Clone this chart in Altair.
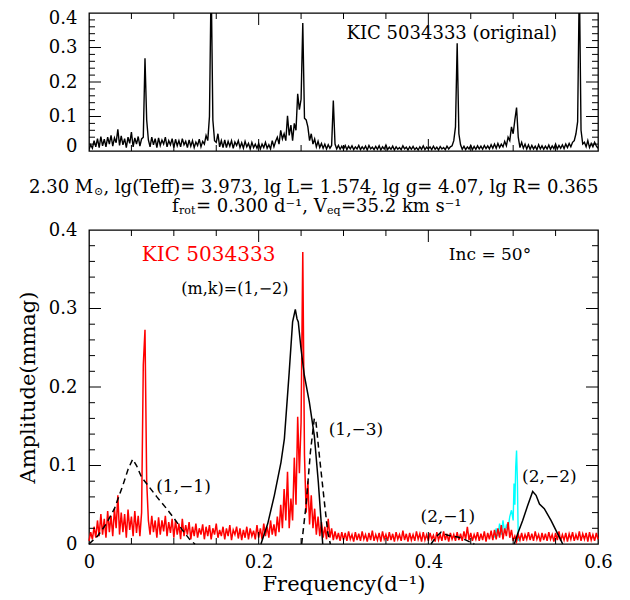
import altair as alt
import pandas as pd

# ---------------- data ----------------
STEP = 0.002  # frequency resolution of the spectra (d^-1)

# original spectrum of KIC 5034333 (top panel), amplitude in mmag
top_amp = [
    0.004, 0.018, 0.008, 0.03, 0.012, 0.036, 0.01, 0.042, 0.015, 0.034,
    0.012, 0.04, 0.02, 0.045, 0.014, 0.038, 0.024, 0.063, 0.016, 0.044,
    0.018, 0.036, 0.01, 0.04, 0.022, 0.055, 0.012, 0.038, 0.02, 0.042,
    0.014, 0.035, 0.04, 0.269, 0.09, 0.032, 0.012, 0.04, 0.018, 0.036,
    0.01, 0.038, 0.016, 0.032, 0.02, 0.04, 0.012, 0.03, 0.018, 0.036,
    0.01, 0.034, 0.015, 0.03, 0.012, 0.036, 0.018, 0.028, 0.01, 0.032,
    0.014, 0.03, 0.01, 0.026, 0.016, 0.034, 0.012, 0.028, 0.02, 0.045,
    0.03, 0.1, 0.5, 0.09, 0.03, 0.025, 0.05, 0.012, 0.03, 0.01,
    0.032, 0.01, 0.028, 0.014, 0.03, 0.008, 0.026, 0.016, 0.03, 0.01,
    0.024, 0.008, 0.028, 0.012, 0.022, 0.006, 0.025, 0.01, 0.02, 0.008,
    0.022, 0.006, 0.02, 0.01, 0.025, 0.008, 0.018, 0.006, 0.03, 0.012,
    0.028, 0.04, 0.02, 0.06, 0.035, 0.05, 0.03, 0.102, 0.045, 0.075,
    0.03, 0.08, 0.06, 0.166, 0.12, 0.15, 0.371, 0.095, 0.09, 0.07,
    0.03, 0.05, 0.02, 0.035, 0.012, 0.028, 0.01, 0.022, 0.008, 0.02,
    0.006, 0.018, 0.008, 0.016, 0.146, 0.02, 0.006, 0.016, 0.005, 0.014,
    0.005, 0.016, 0.004, 0.014, 0.006, 0.015, 0.004, 0.012, 0.006, 0.016,
    0.004, 0.012, 0.005, 0.014, 0.003, 0.016, 0.006, 0.011, 0.004, 0.013,
    0.005, 0.015, 0.003, 0.012, 0.006, 0.017, 0.004, 0.011, 0.005, 0.014,
    0.003, 0.012, 0.005, 0.01, 0.004, 0.015, 0.006, 0.011, 0.003, 0.012,
    0.005, 0.013, 0.004, 0.01, 0.003, 0.012, 0.005, 0.015, 0.004, 0.011,
    0.006, 0.012, 0.004, 0.014, 0.005, 0.011, 0.003, 0.013, 0.006, 0.01,
    0.004, 0.014, 0.006, 0.012, 0.015, 0.03, 0.07, 0.312, 0.05, 0.018,
    0.005, 0.014, 0.004, 0.012, 0.006, 0.016, 0.004, 0.013, 0.005, 0.015,
    0.006, 0.014, 0.005, 0.016, 0.007, 0.015, 0.006, 0.018, 0.008, 0.02,
    0.008, 0.022, 0.01, 0.02, 0.012, 0.028, 0.015, 0.04, 0.03, 0.07,
    0.05, 0.09, 0.126, 0.04, 0.01, 0.025, 0.008, 0.02, 0.006, 0.018,
    0.005, 0.016, 0.006, 0.014, 0.004, 0.018, 0.006, 0.015, 0.005, 0.014,
    0.006, 0.017, 0.005, 0.015, 0.007, 0.02, 0.006, 0.016, 0.008, 0.018,
    0.007, 0.02, 0.01, 0.022, 0.012, 0.025, 0.03, 0.05, 0.085, 0.5,
    0.06, 0.02, 0.025, 0.012, 0.03, 0.01, 0.022, 0.012, 0.025, 0.015,
    0.008,
]

# observed (red) spectrum in the lower panel
red_amp = [
    0.004, 0.015, 0.006, 0.022, 0.008, 0.03, 0.01, 0.038, 0.012, 0.032,
    0.008, 0.042, 0.015, 0.036, 0.01, 0.045, 0.02, 0.062, 0.012, 0.04,
    0.015, 0.038, 0.008, 0.044, 0.018, 0.035, 0.01, 0.042, 0.014, 0.036,
    0.01, 0.04, 0.228, 0.273, 0.08, 0.03, 0.012, 0.036, 0.015, 0.03,
    0.008, 0.034, 0.012, 0.03, 0.016, 0.036, 0.01, 0.028, 0.014, 0.032,
    0.008, 0.03, 0.012, 0.026, 0.006, 0.032, 0.01, 0.024, 0.012, 0.028,
    0.006, 0.022, 0.01, 0.026, 0.008, 0.02, 0.012, 0.025, 0.006, 0.022,
    0.01, 0.024, 0.006, 0.02, 0.012, 0.026, 0.008, 0.018, 0.01, 0.022,
    0.006, 0.02, 0.01, 0.024, 0.005, 0.018, 0.012, 0.022, 0.007, 0.02,
    0.005, 0.018, 0.008, 0.022, 0.006, 0.02, 0.01, 0.017, 0.006, 0.024,
    0.008, 0.02, 0.006, 0.026, 0.01, 0.022, 0.008, 0.03, 0.012, 0.025,
    0.01, 0.035, 0.015, 0.05, 0.02, 0.07, 0.03, 0.092, 0.02, 0.058,
    0.03, 0.11, 0.05, 0.162, 0.09, 0.155, 0.372, 0.113, 0.04, 0.08,
    0.025, 0.062, 0.02, 0.045, 0.012, 0.035, 0.01, 0.028, 0.008, 0.022,
    0.006, 0.032, 0.008, 0.02, 0.005, 0.016, 0.006, 0.014, 0.004, 0.015,
    0.005, 0.014, 0.004, 0.016, 0.006, 0.012, 0.003, 0.015, 0.005, 0.013,
    0.004, 0.016, 0.006, 0.012, 0.003, 0.014, 0.005, 0.017, 0.004, 0.012,
    0.005, 0.014, 0.003, 0.016, 0.006, 0.012, 0.004, 0.015, 0.005, 0.013,
    0.003, 0.015, 0.006, 0.012, 0.004, 0.017, 0.005, 0.013, 0.003, 0.014,
    0.005, 0.012, 0.004, 0.016, 0.006, 0.013, 0.003, 0.015, 0.005, 0.012,
    0.004, 0.014, 0.006, 0.011, 0.003, 0.015, 0.005, 0.012, 0.004, 0.016,
    0.005, 0.013, 0.003, 0.014, 0.006, 0.012, 0.004, 0.015, 0.005, 0.013,
    0.004, 0.016, 0.006, 0.022, 0.005, 0.014, 0.004, 0.012, 0.006, 0.015,
    0.004, 0.013, 0.005, 0.016, 0.003, 0.014, 0.006, 0.017, 0.005, 0.018,
    0.006, 0.02, 0.008, 0.024, 0.006, 0.02, 0.01, 0.028, 0.008, 0.018,
    0.004, 0.01, 0.003, 0.012, 0.005, 0.014, 0.004, 0.012, 0.006, 0.015,
    0.005, 0.013, 0.004, 0.016, 0.006, 0.012, 0.003, 0.014, 0.005, 0.013,
    0.004, 0.015, 0.006, 0.012, 0.003, 0.014, 0.005, 0.016, 0.004, 0.012,
    0.005, 0.014, 0.003, 0.013, 0.006, 0.015, 0.004, 0.012, 0.005, 0.016,
    0.004, 0.013, 0.006, 0.014, 0.003, 0.015, 0.005, 0.012, 0.004, 0.014,
    0.006,
]

# cyan part of the spectrum near 0.5 d^-1
cyan_freq = [0.478, 0.480, 0.482, 0.484, 0.486, 0.488, 0.490, 0.492, 0.494, 0.496,
             0.498, 0.500, 0.501, 0.502, 0.503, 0.504, 0.505, 0.506, 0.508]
cyan_amp = [0.008, 0.02, 0.01, 0.026, 0.012, 0.03, 0.014, 0.024, 0.02, 0.035,
            0.043, 0.03, 0.077, 0.05, 0.098, 0.119, 0.08, 0.005, 0.004]

# model amplitude curves (m,k)
m11_f = [0.0, 0.01, 0.02, 0.03, 0.04, 0.046, 0.0515, 0.056, 0.062, 0.07, 0.08, 0.09, 0.1, 0.11, 0.12, 0.125]
m11_a = [0.0, 0.01, 0.025, 0.045, 0.075, 0.095, 0.108, 0.1, 0.085, 0.074, 0.06, 0.047, 0.033, 0.018, 0.004, 0.0]

m12_f = [0.2027, 0.2107, 0.2185, 0.2263, 0.2303, 0.236, 0.240, 0.2432, 0.2452, 0.2467, 0.2499, 0.2538, 0.2597, 0.2656, 0.2703, 0.2755]
m12_a = [0.0, 0.026, 0.062, 0.104, 0.134, 0.219, 0.283, 0.299, 0.287, 0.283, 0.249, 0.215, 0.181, 0.138, 0.079, 0.0]

m13_f = [0.2507, 0.2558, 0.261, 0.2656, 0.2676, 0.2715, 0.2766, 0.2814, 0.2845]
m13_a = [0.0, 0.049, 0.117, 0.16, 0.155, 0.113, 0.062, 0.015, 0.0]

m21_f = [0.4032, 0.409, 0.415, 0.4228, 0.4346, 0.4444, 0.4542]
m21_a = [0.0, 0.009, 0.015, 0.011, 0.009, 0.005, 0.0]

m22_f = [0.5014, 0.5053, 0.5112, 0.5171, 0.523, 0.527, 0.531, 0.5367, 0.5446, 0.5525, 0.5584]
m22_a = [0.0, 0.013, 0.030, 0.049, 0.067, 0.062, 0.051, 0.045, 0.030, 0.013, 0.0]

# tick positions / labels
y_labels = [0, 0.1, 0.2, 0.3, 0.4]
x_labels = [0, 0.2, 0.4, 0.6]
y_major_ticks = [0.1, 0.2, 0.3]
y_minor_ticks = [0.02, 0.04, 0.06, 0.08, 0.12, 0.14, 0.16, 0.18,
                 0.22, 0.24, 0.26, 0.28, 0.32, 0.34, 0.36, 0.38]
x_major_ticks = [0.2, 0.4]
x_minor_ticks = [0.05, 0.1, 0.15, 0.25, 0.3, 0.35, 0.45, 0.5, 0.55]

# annotations of the lower panel
ann_text = ["(1,\u22121)", "(1,\u22123)", "(2,\u22121)", "(2,\u22122)", "Inc  =  50\u00b0"]
ann_f = [0.1114, 0.3147, 0.4229, 0.5426, 0.4727]
ann_a = [0.0726, 0.145, 0.0344, 0.0853, 0.3677]
mk_text = ["(m,k)=(1,\u22122)"]
mk_f = [0.172]
mk_a = [0.325]

# parameter lines between the panels
line1_main = ["2.30 M", ",  lg(Teff)= 3.973, lg L= 1.574, lg g= 4.07, lg R= 0.365"]
line1_main_f = [-0.0707, 0.0170]
line1_sub = ["\u2299"]
line1_sub_f = [0.0060]
line2_main = ["f", "= 0.300 d\u207b\u00b9, V", "=35.2 km s\u207b\u00b9"]
line2_main_f = [0.0978, 0.1261, 0.2971]
line2_sub = ["rot", "eq"]
line2_sub_f = [0.1061, 0.2806]

# ---------------- chart ----------------
W = 509
H_TOP = 138
H_MID = 62
H_BOT = 314

xs = alt.Scale(domain=[0, 0.6], nice=False, zero=False)
ys = alt.Scale(domain=[0, 0.4], nice=False, zero=False)

top_df = pd.DataFrame({"f": [round(i * STEP, 3) for i in range(len(top_amp))], "a": top_amp})
red_df = pd.DataFrame({"f": [round(i * STEP, 3) for i in range(len(red_amp))], "a": red_amp})
cyan_df = pd.DataFrame({"f": cyan_freq, "a": cyan_amp})


def model_df(pairs):
    rows = []
    for name, fs, As in pairs:
        for f, a in zip(fs, As):
            rows.append({"model": name, "f": f, "a": a})
    return pd.DataFrame(rows)


solid_df = model_df([("1,-2", m12_f, m12_a), ("2,-2", m22_f, m22_a)])
dashed_df = model_df([("1,-1", m11_f, m11_a), ("1,-3", m13_f, m13_a), ("2,-1", m21_f, m21_a)])

# axes: the same definition is repeated in every layer of a panel
top_xaxis = None
top_yaxis = alt.Axis(values=y_labels, format="~g", title=None, labelFlush=True, labelFlushOffset=4)
bot_xaxis = alt.Axis(values=x_labels, format="~g", title="Frequency(d\u207b\u00b9)", labelFlush=False)
bot_yaxis = alt.Axis(values=y_labels, format="~g", title="Amplitude(mmag)")


def enc(xaxis, yaxis, field_x="f", field_y="a"):
    return dict(
        x=alt.X(field_x + ":Q", scale=xs, axis=xaxis),
        y=alt.Y(field_y + ":Q", scale=ys, axis=yaxis),
    )


def frame_ticks(w, h, xaxis, yaxis):
    layers = []
    for vals, L in [(x_major_ticks, 12), (x_minor_ticks, 6)]:
        base = alt.Chart(pd.DataFrame({"v": vals})).mark_rule(color="black", strokeWidth=1)
        xe = alt.X("v:Q", scale=xs, axis=xaxis)
        layers.append(base.encode(x=xe, y=alt.value(h), y2=alt.value(h - L)))
        layers.append(base.encode(x=xe, y=alt.value(0), y2=alt.value(L)))
    for vals, L in [(y_major_ticks, 12), (y_minor_ticks, 6)]:
        base = alt.Chart(pd.DataFrame({"v": vals})).mark_rule(color="black", strokeWidth=1)
        ye = alt.Y("v:Q", scale=ys, axis=yaxis)
        layers.append(base.encode(y=ye, x=alt.value(0), x2=alt.value(L)))
        layers.append(base.encode(y=ye, x=alt.value(w), x2=alt.value(w - L)))
    return layers


top_line = alt.Chart(top_df).mark_line(color="black", strokeWidth=1.4, clip=True).encode(
    **enc(top_xaxis, top_yaxis)
)
top_label = alt.Chart(pd.DataFrame({"t": ["KIC 5034333 (original)"], "f": [0.4277], "a": [0.34]})).mark_text(
    fontSize=18, color="black", align="center", baseline="middle"
).encode(text="t:N", **enc(top_xaxis, top_yaxis))

top = alt.layer(top_line, top_label, *frame_ticks(W, H_TOP, top_xaxis, top_yaxis)).properties(
    width=W, height=H_TOP
)


def mid_text(texts, fs, ypx, size, dy=0):
    return alt.Chart(pd.DataFrame({"t": texts, "f": fs})).mark_text(
        fontSize=size, color="black", align="left", baseline="middle", dy=dy
    ).encode(x=alt.X("f:Q", scale=xs, axis=None), y=alt.value(ypx), text="t:N")


mid = alt.layer(
    mid_text(line1_main, line1_main_f, 31, 18),
    mid_text(line1_sub, line1_sub_f, 31, 11, dy=4),
    mid_text(line2_main, line2_main_f, 50, 18),
    mid_text(line2_sub, line2_sub_f, 50, 11, dy=4),
).properties(width=W, height=H_MID, view=alt.ViewBackground(stroke="transparent"))

cyan_line = alt.Chart(cyan_df).mark_line(color="#00ffff", strokeWidth=1.4).encode(**enc(bot_xaxis, bot_yaxis))
red_line = alt.Chart(red_df).mark_line(color="#ff0000", strokeWidth=1.5).encode(**enc(bot_xaxis, bot_yaxis))
solid_lines = alt.Chart(solid_df).mark_line(color="black", strokeWidth=1.5).encode(
    detail="model:N", **enc(bot_xaxis, bot_yaxis)
)
dashed_lines = alt.Chart(dashed_df).mark_line(color="black", strokeWidth=1.5, strokeDash=[6, 4]).encode(
    detail="model:N", **enc(bot_xaxis, bot_yaxis)
)
ann = alt.Chart(pd.DataFrame({"t": ann_text, "f": ann_f, "a": ann_a})).mark_text(
    fontSize=17, color="black", align="center", baseline="middle"
).encode(text="t:N", **enc(bot_xaxis, bot_yaxis))
mk = alt.Chart(pd.DataFrame({"t": mk_text, "f": mk_f, "a": mk_a})).mark_text(
    fontSize=16, color="black", align="center", baseline="middle"
).encode(text="t:N", **enc(bot_xaxis, bot_yaxis))
kic = alt.Chart(pd.DataFrame({"t": ["KIC 5034333"], "f": [0.141], "a": [0.368]})).mark_text(
    fontSize=20, color="#ff0000", align="center", baseline="middle"
).encode(text="t:N", **enc(bot_xaxis, bot_yaxis))

bottom = alt.layer(
    cyan_line, red_line, solid_lines, dashed_lines, ann, mk, kic,
    *frame_ticks(W, H_BOT, bot_xaxis, bot_yaxis)
).properties(width=W, height=H_BOT)

chart = alt.vconcat(top, mid, bottom, spacing=0).properties(
    padding={"left": 8, "top": 0, "right": 2, "bottom": 2}
).configure(font="DejaVu Serif").configure_view(
    stroke="black", strokeWidth=1.3
).configure_axis(
    grid=False, ticks=False, domain=False,
    labelFontSize=18, labelColor="black", labelFont="DejaVu Serif",
    titleFontSize=21, titleFontWeight="normal", titleColor="black", titleFont="DejaVu Serif",
).configure_axisY(labelPadding=12, titlePadding=10).configure_axisX(labelPadding=9, titlePadding=2)

chart.save("out.html", embed_options={"renderer": "svg", "actions": False})
